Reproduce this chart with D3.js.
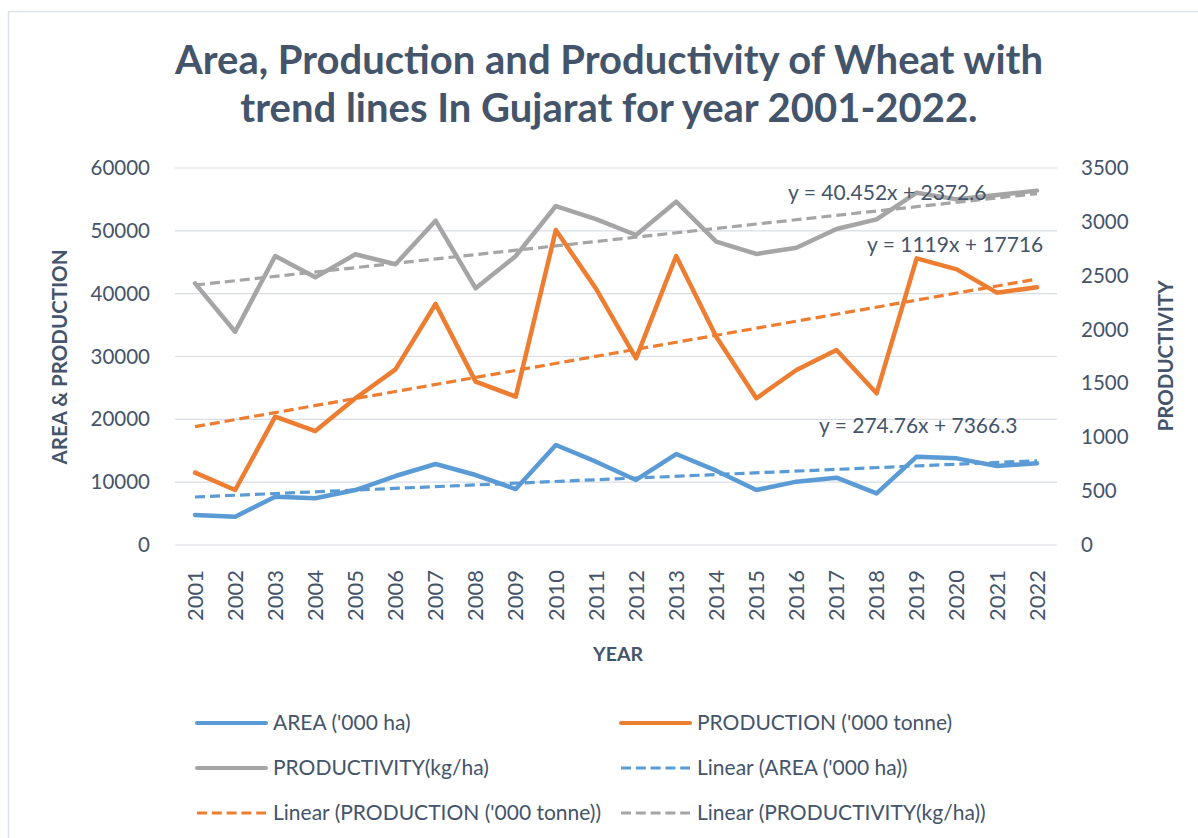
<!DOCTYPE html>
<html>
<head>
<meta charset="utf-8">
<script src="https://cdn.jsdelivr.net/npm/d3@7"></script>
<style>
  body { margin: 0; background: #fff; }
  text { font-family: Lato, "Noto Sans", sans-serif; fill: #44546a; }
</style>
</head>
<body>
<svg id="chart" width="1198" height="838"></svg>
<script>
// data
const years = ["2001","2002","2003","2004","2005","2006","2007","2008","2009","2010","2011",
               "2012","2013","2014","2015","2016","2017","2018","2019","2020","2021","2022"];
const area = [4780, 4500, 7690, 7430, 8750, 10980, 12890, 11140, 8910, 15910, 13260,
              10350, 14480, 11830, 8750, 10080, 10720, 8220, 14060, 13790, 12570, 13000];
const production = [11510, 8750, 20420, 18140, 23350, 27960, 38360, 26000, 23610, 50130, 40800,
                    29710, 46000, 33150, 23340, 27850, 31030, 24140, 45620, 43870, 40160, 41010];
const productivity = [2429, 1980, 2683, 2485, 2699, 2606, 3011, 2383, 2683, 3147, 3026,
                      2878, 3187, 2816, 2702, 2760, 2934, 3023, 3271, 3209, 3249, 3290];
// trend lines: [slope, intercept]
const areaTrend = [274.76, 7366.3];
const prodTrend = [1119, 17716];
const prtyTrend = [40.452, 2372.6];
const leftTicks = [0, 10000, 20000, 30000, 40000, 50000, 60000];
const rightTicks = [0, 500, 1000, 1500, 2000, 2500, 3000, 3500];

const blue = "#5b9bd5", orange = "#ed7d31", gray = "#a5a5a5";

const svg = d3.select("#chart");

// chart frame
svg.append("path")
    .attr("d", "M8.5,838V11.5H1198")
    .attr("fill", "none").attr("stroke", "#dde2e8").attr("stroke-width", 1.5);

const x = d3.scaleBand().domain(years).range([175, 1057]);
const yL = d3.scaleLinear().domain([0, 60000]).range([545, 168]);
const yR = d3.scaleLinear().domain([0, 3500]).range([545, 168]);
const cx = d => x(d) + x.bandwidth() / 2;

// gridlines
svg.append("g").selectAll("line").data(leftTicks).join("line")
    .attr("x1", 175).attr("x2", 1057)
    .attr("y1", d => yL(d)).attr("y2", d => yL(d))
    .attr("stroke", "#d9dde3").attr("stroke-width", 1.2);

// left axis labels
const gl = svg.append("g").attr("transform", "translate(150,0)")
    .call(d3.axisLeft(yL).tickValues(leftTicks).tickSize(0).tickPadding(0).tickFormat(d3.format("d")));
gl.select(".domain").remove();
gl.selectAll("text").style("font-size", "20.5px").attr("fill", "#44546a");

// right axis labels
const gr = svg.append("g").attr("transform", "translate(1081,0)")
    .call(d3.axisRight(yR).tickValues(rightTicks).tickSize(0).tickPadding(0).tickFormat(d3.format("d")));
gr.select(".domain").remove();
gr.selectAll("text").style("font-size", "20.5px").attr("fill", "#44546a");

// x axis labels, rotated
const gx = svg.append("g").attr("transform", "translate(0,570)")
    .call(d3.axisBottom(x).tickSize(0).tickPadding(0));
gx.select(".domain").remove();
gx.selectAll("text")
    .style("font-size", "22px").attr("fill", "#44546a")
    .attr("transform", "rotate(-90)")
    .attr("text-anchor", "end").attr("dy", "0.35em").attr("x", 0).attr("y", 0);

// axis titles
svg.append("text").attr("transform", "translate(67,357) rotate(-90)")
    .attr("text-anchor", "middle").attr("font-weight", "bold").style("font-size", "20.5px")
    .text("AREA & PRODUCTION");
svg.append("text").attr("transform", "translate(1173,356) rotate(-90)")
    .attr("text-anchor", "middle").attr("font-weight", "bold").style("font-size", "20.5px")
    .text("PRODUCTIVITY");
svg.append("text").attr("x", 618).attr("y", 661)
    .attr("text-anchor", "middle").attr("font-weight", "bold").style("font-size", "19.5px")
    .text("YEAR");

// title
svg.append("text").attr("x", 609).attr("y", 74)
    .attr("text-anchor", "middle").attr("font-weight", "bold").style("font-size", "40px")
    .text("Area, Production and Productivity of Wheat with");
svg.append("text").attr("x", 609).attr("y", 122)
    .attr("text-anchor", "middle").attr("font-weight", "bold").style("font-size", "40px")
    .text("trend lines In Gujarat for year 2001-2022.");

// trend lines
function trend(t, scale) {
    const first = 1, last = years.length;
    return [[cx(years[0]), scale(t[0] * first + t[1])], [cx(years[last - 1]), scale(t[0] * last + t[1])]];
}
const lineGen = d3.line();
[[areaTrend, yL, blue], [prodTrend, yL, orange], [prtyTrend, yR, gray]].forEach(([t, s, c]) => {
    svg.append("path").attr("d", lineGen(trend(t, s)))
        .attr("fill", "none").attr("stroke", c).attr("stroke-width", 3.2)
        .attr("stroke-dasharray", "10,5");
});

// series lines
const series = [[area, yL, blue], [production, yL, orange], [productivity, yR, gray]];
series.forEach(([vals, s, c]) => {
    svg.append("path")
        .attr("d", d3.line().x((d, i) => cx(years[i])).y(d => s(d))(vals))
        .attr("fill", "none").attr("stroke", c).attr("stroke-width", 4.5)
        .attr("stroke-linejoin", "round").attr("stroke-linecap", "round");
});

// trend equations
const eqs = [
    ["y = 40.452x + 2372.6", 788, 200],
    ["y = 1119x + 17716", 867, 252],
    ["y = 274.76x + 7366.3", 819, 433]
];
svg.append("g").selectAll("text").data(eqs).join("text")
    .attr("x", d => d[1]).attr("y", d => d[2]).style("font-size", "21px")
    .text(d => d[0]);

// legend
const legend = [
    ["AREA ('000 ha)", blue, false, 197, 723],
    ["PRODUCTION ('000 tonne)", orange, false, 621, 723],
    ["PRODUCTIVITY(kg/ha)", gray, false, 197, 768],
    ["Linear (AREA ('000 ha))", blue, true, 621, 768],
    ["Linear (PRODUCTION ('000 tonne))", orange, true, 197, 813],
    ["Linear (PRODUCTIVITY(kg/ha))", gray, true, 621, 813]
];
const lg = svg.append("g").selectAll("g").data(legend).join("g")
    .attr("transform", d => `translate(${d[3]},${d[4]})`);
lg.append("line").attr("x1", 0).attr("x2", 69)
    .attr("stroke", d => d[1]).attr("stroke-width", d => d[2] ? 3.2 : 4)
    .attr("stroke-dasharray", d => d[2] ? "10,4.8" : null)
    .attr("stroke-linecap", d => d[2] ? "butt" : "round");
lg.append("text").attr("x", 76).attr("dy", "0.35em").style("font-size", "21px")
    .text(d => d[0]);
</script>
</body>
</html>
